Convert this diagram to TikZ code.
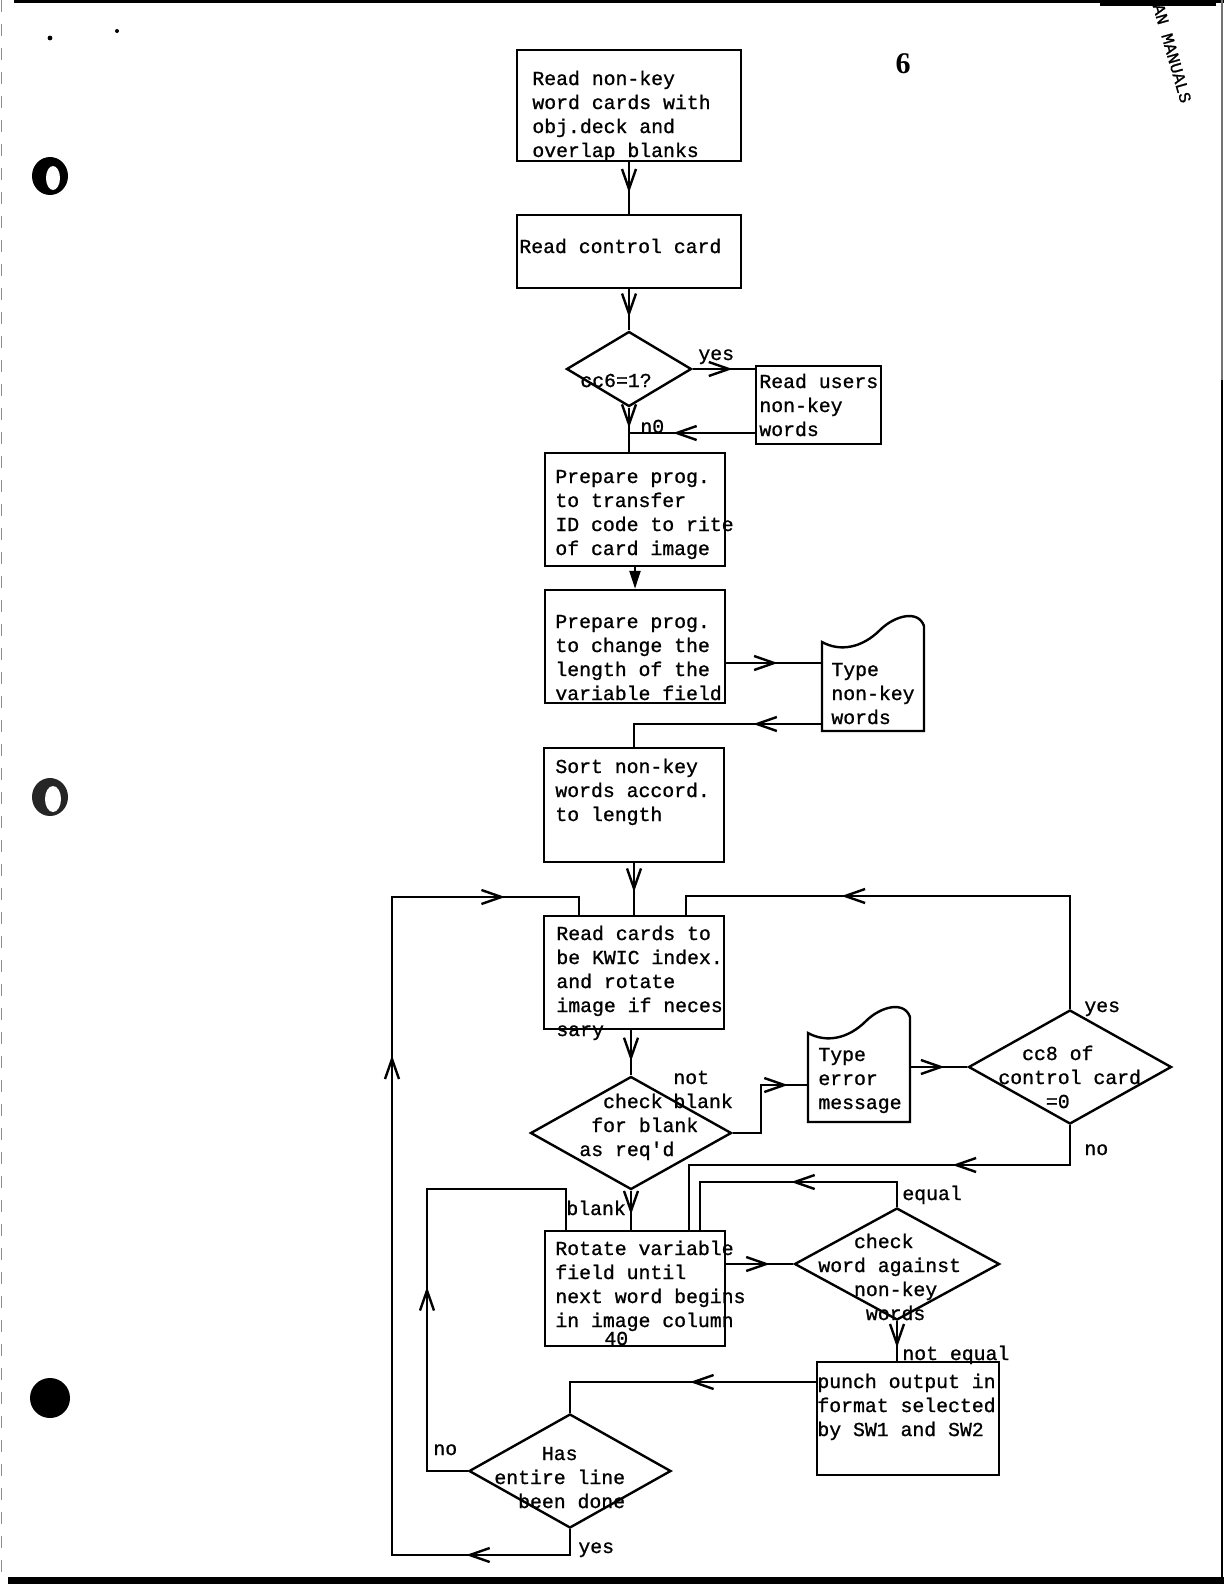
\documentclass[tikz,border=0pt]{standalone}
\usepackage{fontspec}
\newfontfamily\tw{Liberation Mono}[FakeBold=1]
\newfontfamily\pgnum{Liberation Serif}
\usetikzlibrary{shapes.geometric, arrows.meta, decorations.markings}
\begin{document}
\begin{tikzpicture}[x=0.5bp, y=-0.5bp,
  box/.style={draw, rectangle, line width=1.2bp, inner sep=0},
  dia/.style={draw, diamond, line width=1.2bp, inner sep=0},
  ghost/.style={rectangle, inner sep=0},
  txt/.style={font=\tw\fontsize{9.9bp}{12bp}\selectfont, inner sep=0, anchor=base west, align=left},
  conn/.style={line width=1.2bp},
  am/.style={postaction={decorate, decoration={markings, mark=at position #1 with {\arrow{Straight Barb[length=10bp,width=7bp]}}}}},
  docshape/.pic={\draw[conn] (0,0) .. controls (18,10) and (40,6) .. (58,-12) .. controls (72,-26) and (96,-33) .. (102,-16) -- (102,89) -- (0,89) -- cycle;}
]
\useasboundingbox (0,0) rectangle (1224,1584);
\fill[white] (0,0) rectangle (1224,1584);

% --- page edges and scan marks ---
\fill (14,0) rectangle (1224,2.5);
\fill (1100,0) rectangle (1216,6);
\draw[black!55, line width=0.8bp] (1222,0) -- (1222,380);
\draw[line width=1bp] (1222,380) -- (1222,1577);
\draw[black!45, line width=0.6bp, dash pattern=on 6bp off 6bp] (1.5,0) -- (1.5,1577);
\fill (8,1577) rectangle (1224,1584);
\fill (50,38) circle (1.2bp);
\fill (117,31) circle (1bp);
% punch holes
\fill (50,176) ellipse [x radius=9bp, y radius=9.5bp];
\fill[white] (53,178) ellipse [x radius=3.5bp, y radius=6bp];
\fill[black!85] (50,797) ellipse [x radius=9bp, y radius=9.5bp];
\fill[white] (53,799) ellipse [x radius=4bp, y radius=6.5bp];
\fill (50,1398) circle (10bp);
% page number and corner stamp
\node[font=\pgnum\bfseries\fontsize{15bp}{15bp}\selectfont, inner sep=0] (pnum) at (903,64) {6};
\node[font=\tw\fontsize{8.5bp}{8.5bp}\selectfont, rotate=-74, anchor=west, inner sep=0] (stamp) at (1158,4) {AN MANUALS};

% --- process boxes ---
\node[box, minimum width=112bp, minimum height=55.5bp] (b1) at (629,105.5) {};
\node[box, minimum width=112bp, minimum height=36.5bp] (b2) at (629,251.5) {};
\node[box, minimum width=62.5bp, minimum height=39bp] (b3) at (818.5,405) {};
\node[box, minimum width=90bp, minimum height=56.5bp] (b4) at (635,509.5) {};
\node[box, minimum width=90bp, minimum height=56.5bp] (b5) at (635,646.5) {};
\node[box, minimum width=90bp, minimum height=57bp] (b6) at (634,805) {};
\node[box, minimum width=90bp, minimum height=56.5bp] (b7) at (634,972.5) {};
\node[box, minimum width=90bp, minimum height=57.5bp] (b8) at (635,1288.5) {};
\node[box, minimum width=91bp, minimum height=56.5bp] (b9) at (908,1418.5) {};

% --- decisions ---
\node[dia, minimum width=62.5bp, minimum height=37.5bp] (d1) at (629,369) {};
\node[dia, minimum width=101.5bp, minimum height=57bp] (d2) at (1070,1067) {};
\node[dia, minimum width=100.5bp, minimum height=56.5bp] (d3) at (631,1133) {};
\node[dia, minimum width=102.5bp, minimum height=56bp] (d5) at (897,1264) {};
\node[dia, minimum width=101bp, minimum height=57bp] (d4) at (570,1471) {};

% --- typed-output documents ---
\pic at (822,642) {docshape};
\node[ghost, minimum width=51bp, minimum height=57bp] (t1) at (873,674) {};
\pic at (808,1033) {docshape};
\node[ghost, minimum width=51bp, minimum height=57.5bp] (t2) at (859,1064.5) {};

% --- texts (anchor = baseline of the last line) ---
\node[txt] (tb1) at (532,157) {Read non-key\\word cards with\\obj.deck and\\overlap blanks};
\node[txt] (tb2) at (519,253) {Read control card};
\node[txt] (td1) at (580,387) {cc6=1?};
\node[txt] (lyes1) at (698,360) {yes};
\node[txt] (tb3) at (759,436) {Read users\\non-key\\words};
\node[txt] (ln0) at (640,433) {n0};
\node[txt] (tb4) at (555,555) {Prepare prog.\\to transfer\\ID code to rite\\of card image};
\node[txt] (tb5) at (555,700) {Prepare prog.\\to change the\\length of the\\variable field};
\node[txt] (tt1) at (831,724) {Type\\non-key\\words};
\node[txt] (tb6) at (555,821) {Sort non-key\\words accord.\\to length};
\node[txt] (tb7) at (556,1036) {Read cards to\\be KWIC index.\\and rotate\\image if neces\\sary};
\node[txt] (tt2) at (818,1109) {Type\\error\\message};
\node[txt] (td2) at (998,1108) {\phantom{cc}cc8 of\\control card\\\phantom{cccc}=0};
\node[txt] (lyes2) at (1084,1012) {yes};
\node[txt] (td3) at (579,1156) {\phantom{cc}check\\\phantom{c}for blank\\as req'd};
\node[txt] (lnot) at (673,1108) {not\\blank};
\node[txt] (lno2) at (1084,1155) {no};
\node[txt] (lblank) at (566,1215) {blank};
\node[txt] (tb8) at (555,1327) {Rotate variable\\field until\\next word begins\\in image column};
\node[txt] (tb8b) at (604,1345) {40};
\node[txt] (lequal) at (902,1200) {equal};
\node[txt] (td5) at (818,1320) {\phantom{ccc}check\\word against\\\phantom{ccc}non-key\\\phantom{cccc}words};
\node[txt] (lnoteq) at (902,1360) {not equal};
\node[txt] (tb9) at (817,1436) {punch output in\\format selected\\by SW1 and SW2};
\node[txt] (td4) at (494,1508) {\phantom{cccc}Has\\entire line\\\phantom{cc}been done};
\node[txt] (lno4) at (433,1455) {no};
\node[txt] (lyes4) at (578,1553) {yes};

% --- helper coordinates ---
\coordinate (k1) at (629,433);
\coordinate (k2) at (0,663);
\coordinate (k3) at (0,724);
\coordinate (L1) at (392,1555);
\coordinate (L2) at (392,897);
\coordinate (L3) at (579,897);
\coordinate (R1) at (1070,896);
\coordinate (R2) at (686,896);
\coordinate (M1) at (761,1085);
\coordinate (N1) at (689,1165);
\coordinate (E1) at (700,1182);
\coordinate (P1) at (570,1382);
\coordinate (Q1) at (427,1189);
\coordinate (Q2) at (566,1189);

% --- connectors ---
\draw[conn, am=0.59] (b1.south) -- (b2.north);
\draw[conn, am=0.68] (b2.south) -- (d1.north);
\draw[conn, am=0.64] (d1.east) -- (b3.west |- d1.east);
\draw[conn, am=0.65] (b3.west |- k1) -- (k1);
\draw[conn, am=0.46] (d1.south) -- (d1.south |- b4.north);
\draw[conn, -{Triangle[length=9bp,width=5.5bp]}] (b4.south) -- (b5.north);
\draw[conn, am=0.54] (b5.east |- k2) -- (t1.west |- k2);
\draw[conn, am=0.325] (t1.west |- k3) -| (b6.north);
\draw[conn, am=0.56] (b6.south) -- (b7.north);
\draw[conn, am=0.1216, am=0.6595, am=0.914] (d4.south) -- (d4.south |- L1) -- (L1) -- (L2) -- (L3) -- (L3 |- b7.north);
\draw[conn, am=0.662] (d2.north) -- (R1) -- (R2) -- (R2 |- b7.north);
\draw[conn, am=0.69] (d3.north |- b7.south) -- (d3.north);
\draw[conn, am=0.84] (d3.east) -| (M1) -- (t2.west |- M1);
\draw[conn, am=0.6] (t2.east |- d2.west) -- (d2.west);
\draw[conn, am=0.324] (d2.south) |- (N1) -- (N1 |- b8.north);
\draw[conn, am=0.61] (d3.south) -- (d3.south |- b8.north);
\draw[conn, am=0.65] (b8.east |- d5.west) -- (d5.west);
\draw[conn, am=0.485] (d5.north) |- (E1) -- (E1 |- b8.north);
\draw[conn, am=0.667] (d5.south) -- (d5.south |- b9.north);
\draw[conn, am=0.455] (b9.west |- P1) -- (P1) -- (d4.north);
\draw[conn, am=0.4475] (d4.west) -- (Q1 |- d4.west) -- (Q1) -- (Q2) -- (Q2 |- b8.north);
\end{tikzpicture}
\end{document}
